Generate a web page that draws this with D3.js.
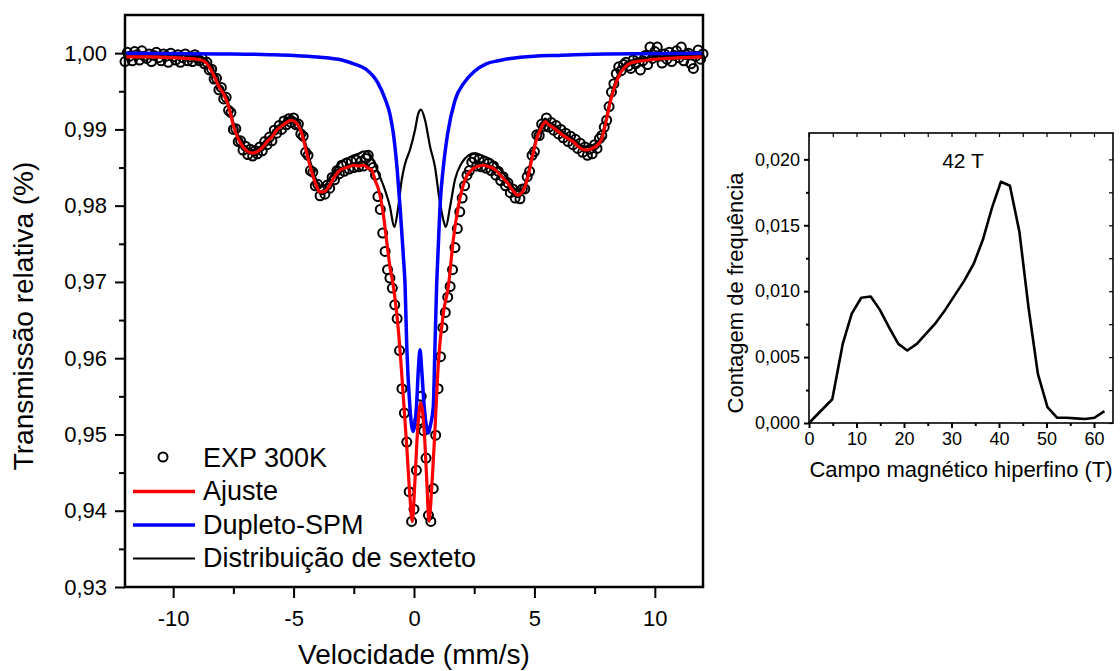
<!DOCTYPE html>
<html>
<head>
<meta charset="utf-8">
<script src="https://cdn.jsdelivr.net/npm/d3@7"></script>
<style>
  body { margin: 0; background: #fff; }
  svg text { font-family: "Liberation Sans", Arial, sans-serif; fill: #000; }
</style>
</head>
<body>
<div id="chart"></div>
<script>
// ---- espectro Mössbauer (velocidade em mm/s, transmissão relativa) ----
var expVelocity = [
  -12.0,-11.9,-11.8,-11.7,-11.6,-11.5,-11.4,-11.3,-11.2,-11.1,
  -11.0,-10.9,-10.8,-10.7,-10.6,-10.5,-10.4,-10.3,-10.2,-10.1,
  -10.0,-9.9,-9.8,-9.7,-9.6,-9.5,-9.4,-9.3,-9.2,-9.1,
  -9.0,-8.9,-8.8,-8.7,-8.6,-8.5,-8.4,-8.3,-8.2,-8.1,
  -8.0,-7.9,-7.8,-7.7,-7.6,-7.5,-7.4,-7.3,-7.2,-7.1,
  -7.0,-6.9,-6.8,-6.7,-6.6,-6.5,-6.4,-6.3,-6.2,-6.1,
  -6.0,-5.9,-5.8,-5.7,-5.6,-5.5,-5.4,-5.3,-5.2,-5.1,
  -5.0,-4.9,-4.8,-4.7,-4.6,-4.5,-4.4,-4.3,-4.2,-4.1,
  -4.0,-3.9,-3.8,-3.7,-3.6,-3.5,-3.4,-3.3,-3.2,-3.1,
  -3.0,-2.9,-2.8,-2.7,-2.6,-2.5,-2.4,-2.3,-2.2,-2.1,
  -2.0,-1.9,-1.8,-1.7,-1.6,-1.5,-1.4,-1.3,-1.2,-1.1,
  -1.0,-0.9,-0.8,-0.7,-0.6,-0.5,-0.4,-0.3,-0.2,-0.1,
  0.0,0.1,0.2,0.3,0.4,0.5,0.6,0.7,0.8,0.9,
  1.0,1.1,1.2,1.3,1.4,1.5,1.6,1.7,1.8,1.9,
  2.0,2.1,2.2,2.3,2.4,2.5,2.6,2.7,2.8,2.9,
  3.0,3.1,3.2,3.3,3.4,3.5,3.6,3.7,3.8,3.9,
  4.0,4.1,4.2,4.3,4.4,4.5,4.6,4.7,4.8,4.9,
  5.0,5.1,5.2,5.3,5.4,5.5,5.6,5.7,5.8,5.9,
  6.0,6.1,6.2,6.3,6.4,6.5,6.6,6.7,6.8,6.9,
  7.0,7.1,7.2,7.3,7.4,7.5,7.6,7.7,7.8,7.9,
  8.0,8.1,8.2,8.3,8.4,8.5,8.6,8.7,8.8,8.9,
  9.0,9.1,9.2,9.3,9.4,9.5,9.6,9.7,9.8,9.9,
  10.0,10.1,10.2,10.3,10.4,10.5,10.6,10.7,10.8,10.9,
  11.0,11.1,11.2,11.3,11.4,11.5,11.6,11.7,11.8,11.9,
  12.0
];
var expTrans = [
  0.9989,1.0001,0.9996,0.9990,1.0002,0.9998,0.9991,1.0003,0.9996,0.9993,
  0.9999,0.9989,0.9997,1.0001,0.9994,0.9990,0.9999,0.9996,0.9988,1.0000,
  0.9995,0.9991,0.9998,0.9988,0.9994,0.9999,0.9990,0.9995,0.9989,0.9998,
  0.9993,0.9990,0.9994,0.9986,0.9988,0.9978,0.9979,0.9966,0.9967,0.9952,
  0.9955,0.9940,0.9942,0.9925,0.9922,0.9900,0.9901,0.9884,0.9885,0.9873,
  0.9878,0.9867,0.9874,0.9865,0.9872,0.9868,0.9877,0.9872,0.9884,0.9880,
  0.9890,0.9885,0.9899,0.9895,0.9905,0.9900,0.9911,0.9906,0.9914,0.9909,
  0.9915,0.9906,0.9907,0.9894,0.9891,0.9870,0.9866,0.9846,0.9844,0.9826,
  0.9828,0.9813,0.9821,0.9815,0.9827,0.9823,0.9837,0.9834,0.9846,0.9842,
  0.9853,0.9845,0.9856,0.9848,0.9858,0.9850,0.9860,0.9851,0.9858,0.9852,
  0.9862,0.9866,0.9855,0.9850,0.9840,0.9812,0.9795,0.9764,0.9740,0.9716,
  0.9705,0.9692,0.9670,0.9652,0.9610,0.9560,0.9528,0.9490,0.9425,0.9386,
  0.9402,0.9453,0.9518,0.9550,0.9505,0.9469,0.9394,0.9386,0.9429,0.9499,
  0.9560,0.9602,0.9640,0.9660,0.9680,0.9694,0.9716,0.9745,0.9770,0.9792,
  0.9810,0.9826,0.9840,0.9846,0.9857,0.9862,0.9852,0.9861,0.9851,0.9858,
  0.9849,0.9856,0.9846,0.9852,0.9840,0.9845,0.9833,0.9838,0.9826,0.9830,
  0.9817,0.9822,0.9810,0.9817,0.9809,0.9822,0.9822,0.9838,0.9845,0.9866,
  0.9871,0.9893,0.9892,0.9907,0.9904,0.9915,0.9903,0.9909,0.9899,0.9905,
  0.9894,0.9900,0.9889,0.9895,0.9884,0.9891,0.9880,0.9887,0.9875,0.9882,
  0.9870,0.9877,0.9866,0.9874,0.9868,0.9880,0.9875,0.9888,0.9892,0.9903,
  0.9912,0.9930,0.9949,0.9960,0.9973,0.9982,0.9977,0.9985,0.9988,0.9983,
  0.9980,0.9991,0.9986,0.9994,0.9978,0.9990,0.9997,0.9985,1.0008,0.9993,
  1.0002,1.0008,0.9996,0.9987,0.9999,0.9992,1.0001,0.9989,0.9997,1.0003,
  0.9994,1.0008,0.9990,0.9998,1.0000,0.9986,0.9980,0.9996,1.0004,0.9992,
  0.9999
];

// Ajuste (vermelho)
var fitVelocity = [-12.0,-11.0,-10.0,-9.4,-9.0,-8.7,-8.5,-8.3,-8.1,-7.9,-7.7,-7.5,-7.3,-7.1,-6.9,-6.7,-6.5,-6.3,-6.1,-5.9,
  -5.7,-5.5,-5.3,-5.1,-4.9,-4.7,-4.5,-4.3,-4.1,-3.9,-3.7,-3.5,-3.3,-3.1,-2.9,-2.7,-2.5,-2.3,-2.1,-1.9,
  -1.76,-1.6,-1.48,-1.28,-1.14,-1.0,-0.86,-0.65,-0.49,-0.30,-0.17,-0.07,0.04,0.15,0.28,0.42,0.53,0.62,0.74,0.87,
  1.01,1.22,1.43,1.63,1.84,2.12,2.47,2.7,2.9,3.1,3.3,3.5,3.7,3.9,4.1,4.3,4.5,4.7,4.9,5.1,
  5.3,5.45,5.6,5.8,6.0,6.2,6.4,6.6,6.8,7.0,7.2,7.4,7.6,7.8,8.0,8.15,8.35,8.57,8.8,9.0,
  9.5,10.4,11.2,12.0];
var fitTrans = [0.9995,0.9995,0.9994,0.9993,0.9992,0.9989,0.9982,0.9970,0.9956,0.9946,0.9930,0.9905,0.9888,0.9877,0.9871,0.9869,0.9871,0.9876,0.9884,0.9890,
  0.9899,0.9904,0.9909,0.9912,0.9909,0.9898,0.9875,0.9850,0.9830,0.9818,0.9819,0.9827,0.9838,0.9846,0.9849,0.9851,0.9853,0.9852,0.9853,0.9849,
  0.9847,0.9832,0.9822,0.9790,0.9755,0.9720,0.9695,0.9637,0.9571,0.9484,0.9419,0.9386,0.9440,0.9506,0.9541,0.9506,0.9440,0.9386,0.9432,0.9506,
  0.9593,0.9659,0.9695,0.9755,0.9799,0.9834,0.9849,0.9852,0.9853,0.9851,0.9849,0.9843,0.9836,0.9829,0.9820,0.9814,0.9818,0.9834,0.9862,0.9888,
  0.9903,0.9910,0.9906,0.9902,0.9897,0.9892,0.9888,0.9884,0.9878,0.9874,0.9873,0.9875,0.9879,0.9888,0.9914,0.9936,0.9958,0.9974,0.9983,0.9987,
  0.9990,0.9993,0.9994,0.9995];

// Dupleto-SPM (azul)
var spmVelocity = [-12.0,-8.0,-6.0,-5.0,-4.0,-3.0,-2.5,-2.0,-1.5,-1.2,-1.0,-0.85,-0.7,-0.58,-0.44,-0.37,-0.3,-0.17,-0.1,-0.03,
  0.04,0.11,0.18,0.25,0.32,0.42,0.52,0.6,0.68,0.8,0.87,0.94,1.0,1.08,1.22,1.4,1.7,2.1,2.5,3.0,
  3.5,4.0,5.0,6.0,8.0,12.0];
var spmTrans = [1.0000,0.9999,0.9998,0.9997,0.9995,0.9991,0.9986,0.9979,0.9961,0.9940,0.9920,0.9893,0.9848,0.9799,0.9733,0.9695,0.9615,0.9536,0.9512,0.9504,
  0.9515,0.9540,0.9585,0.9611,0.9585,0.9538,0.9510,0.9502,0.9512,0.9536,0.9615,0.9695,0.9740,0.9799,0.9851,0.9895,0.9938,0.9962,0.9976,0.9986,
  0.9990,0.9993,0.9996,0.9997,0.9999,1.0000];

// Distribuição de sexteto (preto)
var sextVelocity = [-12.0,-11.0,-10.0,-9.4,-9.0,-8.7,-8.5,-8.3,-8.1,-7.9,-7.7,-7.5,-7.3,-7.1,-6.9,-6.7,-6.5,-6.3,-6.1,-5.9,
  -5.7,-5.5,-5.3,-5.1,-4.9,-4.7,-4.5,-4.3,-4.1,-3.9,-3.7,-3.5,-3.3,-3.1,-2.9,-2.7,-2.5,-2.3,-2.1,-1.97,
  -1.76,-1.48,-1.2,-1.0,-0.82,-0.65,-0.51,-0.37,-0.17,0.04,0.18,0.29,0.46,0.67,0.87,1.04,1.22,1.32,1.5,1.7,
  1.98,2.26,2.54,2.8,3.1,3.3,3.5,3.7,3.9,4.1,4.3,4.5,4.7,4.9,5.1,5.3,5.45,5.6,5.8,6.0,
  6.2,6.4,6.6,6.8,7.0,7.2,7.4,7.6,7.8,8.0,8.15,8.35,8.57,8.8,9.0,9.5,10.4,11.2,12.0];
var sextTrans = [0.9998,0.9998,0.9998,0.9997,0.9996,0.9993,0.9986,0.9974,0.9960,0.9950,0.9934,0.9909,0.9892,0.9881,0.9875,0.9873,0.9875,0.9880,0.9888,0.9894,
  0.9903,0.9908,0.9914,0.9917,0.9914,0.9904,0.9881,0.9857,0.9837,0.9826,0.9827,0.9836,0.9847,0.9856,0.9860,0.9863,0.9866,0.9868,0.9871,0.9871,
  0.9864,0.9843,0.9820,0.9799,0.9772,0.9799,0.9834,0.9855,0.9873,0.9899,0.9921,0.9926,0.9912,0.9877,0.9851,0.9812,0.9781,0.9772,0.9799,0.9834,
  0.9856,0.9866,0.9869,0.9866,0.9862,0.9858,0.9851,0.9843,0.9835,0.9825,0.9819,0.9822,0.9838,0.9866,0.9892,0.9907,0.9914,0.9910,0.9906,0.9901,
  0.9896,0.9892,0.9888,0.9882,0.9878,0.9877,0.9879,0.9883,0.9892,0.9918,0.9940,0.9962,0.9977,0.9986,0.9990,0.9993,0.9996,0.9997,0.9998];

var velTicks = [-10, -5, 0, 5, 10];
var velMinorTicks = [-7.5, -2.5, 2.5, 7.5];
var transTicks = [0.93, 0.94, 0.95, 0.96, 0.97, 0.98, 0.99, 1.00];
var transMinorTicks = [0.935, 0.945, 0.955, 0.965, 0.975, 0.985, 0.995];

var legendLabels = ["EXP 300K", "Ajuste", "Dupleto-SPM", "Distribuição de sexteto"];

// ---- distribuição de campo hiperfino (inset) ----
var field = [0,4.9,7.1,9.0,11.0,13.0,14.9,16.8,18.8,20.7,22.7,24.7,26.7,28.7,30.7,32.7,34.7,36.6,38.5,40.4,
  42.3,44.3,46.2,48.2,50.2,52.2,54.2,56.1,58.1,60.1,62.2];
var freq = [0,0.0018,0.0060,0.0083,0.0095,0.0096,0.0086,0.0073,0.0060,0.0055,0.0060,0.0068,0.0076,0.0086,0.0097,0.0108,0.0121,0.0139,0.0163,0.0183,
  0.0180,0.0145,0.0088,0.0037,0.0012,0.0004,0.0004,0.00035,0.0003,0.0004,0.0009];
var fieldTicks = [0, 10, 20, 30, 40, 50, 60];
var fieldMinorTicks = [5, 15, 25, 35, 45, 55];
var freqTicks = [0, 0.005, 0.010, 0.015, 0.020];
var freqMinorTicks = [0.0025, 0.0075, 0.0125, 0.0175];

var FONT = '"Liberation Sans", Arial, sans-serif';
// pt-BR number style: decimal comma, plain hyphen as minus sign
var ptBR = d3.formatLocale({decimal: ",", thousands: ".", grouping: [3], currency: ["R$", ""], minus: "-"});

var svg = d3.select('#chart').append('svg')
    .attr('width', 1120)
    .attr('height', 671);

// ================= main chart =================
var box = {left: 125, right: 703, top: 15, bottom: 587};

var xScale = d3.scaleLinear().domain([-12, 12]).range([box.left, box.right]);
var yScale = d3.scaleLinear().domain([0.93, 1.005]).range([box.bottom, box.top]);

function styleAxis(g, size) {
  g.select('.domain').remove();
  g.selectAll('line').attr('stroke', '#000').attr('stroke-width', 2);
  g.attr('font-family', FONT).attr('font-size', size);
  g.selectAll('text').attr('fill', '#000');
}

svg.append('g')
    .attr('transform', `translate(0,${box.bottom})`)
    .call(d3.axisBottom(xScale).tickValues(velMinorTicks).tickSize(7).tickFormat(''))
    .call(g => styleAxis(g, 22));
svg.append('g')
    .attr('transform', `translate(0,${box.bottom})`)
    .call(d3.axisBottom(xScale).tickValues(velTicks).tickSize(11).tickPadding(12).tickFormat(ptBR.format('d')))
    .call(g => styleAxis(g, 22));

svg.append('g')
    .attr('transform', `translate(${box.left},0)`)
    .call(d3.axisLeft(yScale).tickValues(transMinorTicks).tickSize(6).tickFormat(''))
    .call(g => styleAxis(g, 22));
svg.append('g')
    .attr('transform', `translate(${box.left},0)`)
    .call(d3.axisLeft(yScale).tickValues(transTicks).tickSize(10).tickPadding(8).tickFormat(ptBR.format('.2f')))
    .call(g => styleAxis(g, 22));

// data circles
svg.append('g').selectAll('circle')
    .data(d3.zip(expVelocity, expTrans))
    .join('circle')
    .attr('cx', d => xScale(d[0]))
    .attr('cy', d => yScale(d[1]))
    .attr('r', 4.5)
    .attr('fill', 'none')
    .attr('stroke', '#000')
    .attr('stroke-width', 2);

var line = d3.line()
    .x(d => xScale(d[0]))
    .y(d => yScale(d[1]))
    .curve(d3.curveMonotoneX);

svg.append('path')
    .datum(d3.zip(sextVelocity, sextTrans))
    .attr('d', line)
    .attr('fill', 'none')
    .attr('stroke', '#000')
    .attr('stroke-width', 2.2);

svg.append('path')
    .datum(d3.zip(spmVelocity, spmTrans))
    .attr('d', line)
    .attr('fill', 'none')
    .attr('stroke', '#0000ff')
    .attr('stroke-width', 3.5);

svg.append('path')
    .datum(d3.zip(fitVelocity, fitTrans))
    .attr('d', line)
    .attr('fill', 'none')
    .attr('stroke', '#ff0000')
    .attr('stroke-width', 3.2);

// frame
svg.append('rect')
    .attr('x', box.left)
    .attr('y', box.top)
    .attr('width', box.right - box.left)
    .attr('height', box.bottom - box.top)
    .attr('fill', 'none')
    .attr('stroke', '#000')
    .attr('stroke-width', 2.5);

// axis titles
svg.append('text')
    .attr('x', (box.left + box.right) / 2)
    .attr('y', 664)
    .attr('text-anchor', 'middle')
    .attr('font-size', 28)
    .text('Velocidade (mm/s)');

svg.append('text')
    .attr('transform', 'translate(33,316) rotate(-90)')
    .attr('text-anchor', 'middle')
    .attr('font-size', 28)
    .text('Transmissão relativa (%)');

// legend
var legend = svg.append('g').attr('font-size', 27);
var legendRows = [466.5, 500, 533.5, 567];
var legendStyles = [
  {type: 'circle'},
  {type: 'line', color: '#ff0000', width: 3.5},
  {type: 'line', color: '#0000ff', width: 3.5},
  {type: 'line', color: '#000', width: 2.2}
];
legendLabels.forEach(function(label, i) {
  var yb = legendRows[i];
  var st = legendStyles[i];
  if (st.type == 'circle') {
    legend.append('circle')
        .attr('cx', 163).attr('cy', yb - 9.5).attr('r', 4.5)
        .attr('fill', 'none').attr('stroke', '#000').attr('stroke-width', 2);
  } else {
    legend.append('line')
        .attr('x1', 133).attr('x2', 195)
        .attr('y1', yb - 8.5).attr('y2', yb - 8.5)
        .attr('stroke', st.color).attr('stroke-width', st.width);
  }
  legend.append('text').attr('x', 203).attr('y', yb).text(label);
});

// ================= inset =================
var ib = {left: 809, right: 1113, top: 133, bottom: 423};
var xi = d3.scaleLinear().domain([0, 64]).range([ib.left, ib.right]);
var yi = d3.scaleLinear().domain([0, 0.022]).range([ib.bottom, ib.top]);

svg.append('g')
    .attr('transform', `translate(0,${ib.bottom})`)
    .call(d3.axisBottom(xi).tickValues(fieldMinorTicks).tickSize(3).tickFormat(''))
    .call(g => styleAxis(g, 18));
svg.append('g')
    .attr('transform', `translate(0,${ib.bottom})`)
    .call(d3.axisBottom(xi).tickValues(fieldTicks).tickSize(5).tickPadding(4).tickFormat(ptBR.format('d')))
    .call(g => styleAxis(g, 18));
svg.append('g')
    .attr('transform', `translate(${ib.left},0)`)
    .call(d3.axisLeft(yi).tickValues(freqMinorTicks).tickSize(3).tickFormat(''))
    .call(g => styleAxis(g, 18));
svg.append('g')
    .attr('transform', `translate(${ib.left},0)`)
    .call(d3.axisLeft(yi).tickValues(freqTicks).tickSize(5).tickPadding(4).tickFormat(ptBR.format('.3f')))
    .call(g => styleAxis(g, 18));
// mirrored ticks pointing inward
svg.append('g')
    .attr('transform', `translate(0,${ib.top})`)
    .call(d3.axisTop(xi).tickValues(fieldTicks.concat(fieldMinorTicks)).tickSize(-4).tickFormat(''))
    .call(g => styleAxis(g, 18))
    .selectAll('line').attr('stroke-width', 1.2);
svg.append('g')
    .attr('transform', `translate(${ib.right},0)`)
    .call(d3.axisRight(yi).tickValues(freqTicks.concat(freqMinorTicks)).tickSize(-4).tickFormat(''))
    .call(g => styleAxis(g, 18))
    .selectAll('line').attr('stroke-width', 1.2);

svg.append('path')
    .datum(d3.zip(field, freq))
    .attr('d', d3.line().x(d => xi(d[0])).y(d => yi(d[1])))
    .attr('fill', 'none')
    .attr('stroke', '#000')
    .attr('stroke-width', 2.6)
    .attr('stroke-linejoin', 'round');

svg.append('rect')
    .attr('x', ib.left)
    .attr('y', ib.top)
    .attr('width', ib.right - ib.left)
    .attr('height', ib.bottom - ib.top)
    .attr('fill', 'none')
    .attr('stroke', '#000')
    .attr('stroke-width', 1.6);

svg.append('text')
    .attr('x', 963)
    .attr('y', 168)
    .attr('text-anchor', 'middle')
    .attr('font-size', 21)
    .text('42 T');

svg.append('text')
    .attr('x', (ib.left + ib.right) / 2)
    .attr('y', 477)
    .attr('text-anchor', 'middle')
    .attr('font-size', 22)
    .text('Campo magnético hiperfino (T)');

svg.append('text')
    .attr('transform', 'translate(743,293) rotate(-90)')
    .attr('text-anchor', 'middle')
    .attr('font-size', 22)
    .text('Contagem de frequência');
</script>
</body>
</html>
